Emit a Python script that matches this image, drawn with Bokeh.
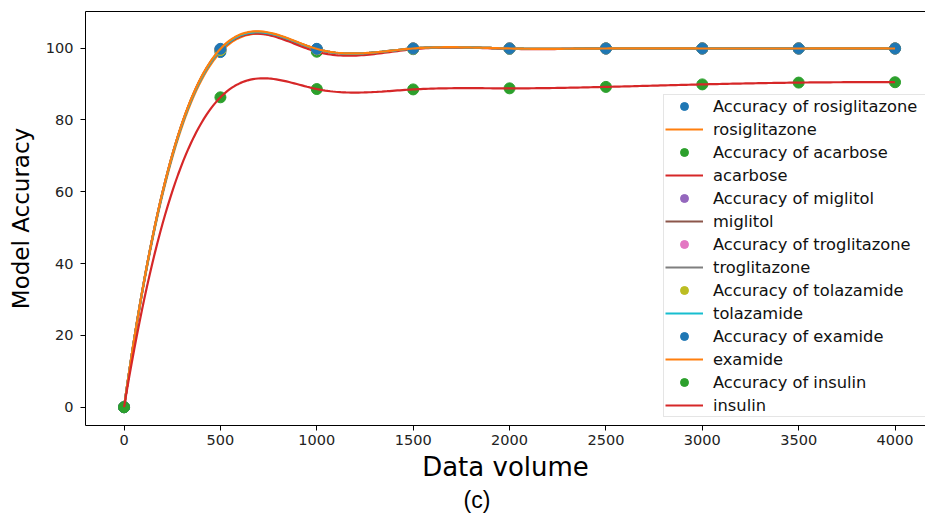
import numpy as np
from bokeh.plotting import figure
from bokeh.models import (Range1d, LinearAxis, FixedTicker, Legend, LegendItem, Title)
from bokeh.embed import file_html
from bokeh.resources import INLINE

# ---- data ----
data_volume = [0, 500, 1000, 1500, 2000, 2500, 3000, 3500, 4000]
acc_rosiglitazone = [0, 98.9, 99.6, 99.9, 99.9, 99.9, 99.9, 99.9, 99.9]
acc_acarbose = [0, 99.4, 99.0, 99.7, 99.8, 99.9, 99.9, 99.9, 99.9]
acc_miglitol = [0, 99.6, 99.7, 99.9, 99.9, 99.9, 99.9, 99.9, 99.9]
acc_troglitazone = [0, 99.6, 99.7, 99.9, 99.9, 99.9, 99.9, 99.9, 99.9]
acc_tolazamide = [0, 99.5, 99.7, 99.9, 99.9, 99.9, 99.9, 99.9, 99.9]
acc_examide = [0, 99.8, 99.8, 99.9, 99.9, 99.9, 99.9, 99.9, 99.9]
acc_insulin = [0, 86.3, 88.6, 88.5, 88.8, 89.2, 89.9, 90.4, 90.5]

drugs = ["rosiglitazone", "acarbose", "miglitol", "troglitazone",
         "tolazamide", "examide", "insulin"]
series = [acc_rosiglitazone, acc_acarbose, acc_miglitol, acc_troglitazone,
          acc_tolazamide, acc_examide, acc_insulin]
x_ticks = [0, 500, 1000, 1500, 2000, 2500, 3000, 3500, 4000]
y_ticks = [0, 20, 40, 60, 80, 100]
caption_text = "(c)"

tab10 = ["#1f77b4", "#ff7f0e", "#2ca02c", "#d62728", "#9467bd",
         "#8c564b", "#e377c2", "#7f7f7f", "#bcbd22", "#17becf"]


def spline_curve(xs, ys, npts=300):
    """Not-a-knot cubic spline through the data points (as make_interp_spline k=3)."""
    xs = np.asarray(xs, float)
    ys = np.asarray(ys, float)
    sc = 500.0
    u = xs / sc
    n = len(u) - 1
    A = np.zeros((4 * n, 4 * n))
    b = np.zeros(4 * n)
    r = 0
    for i in range(n):
        h = u[i + 1] - u[i]
        A[r, 4 * i] = 1; b[r] = ys[i]; r += 1
        A[r, 4 * i:4 * i + 4] = [1, h, h * h, h ** 3]; b[r] = ys[i + 1]; r += 1
    for i in range(n - 1):
        h = u[i + 1] - u[i]
        A[r, 4 * i + 1] = 1; A[r, 4 * i + 2] = 2 * h; A[r, 4 * i + 3] = 3 * h * h
        A[r, 4 * (i + 1) + 1] = -1; r += 1
        A[r, 4 * i + 2] = 2; A[r, 4 * i + 3] = 6 * h
        A[r, 4 * (i + 1) + 2] = -2; r += 1
    A[r, 3] = 1; A[r, 7] = -1; r += 1
    A[r, 4 * (n - 2) + 3] = 1; A[r, 4 * (n - 1) + 3] = -1; r += 1
    c = np.linalg.solve(A, b)
    xf = np.linspace(xs[0], xs[-1], npts)
    uf = xf / sc
    idx = np.clip(np.searchsorted(u, uf, side="right") - 1, 0, n - 1)
    t = uf - u[idx]
    yf = c[4 * idx] + c[4 * idx + 1] * t + c[4 * idx + 2] * t ** 2 + c[4 * idx + 3] * t ** 3
    return xf, yf


FONT = "DejaVu Sans"

p = figure(width=925, height=515, output_backend="svg", toolbar_location=None,
           x_range=Range1d(-200, 4158), y_range=Range1d(-5.1, 110.2),
           min_border_left=85, min_border_right=0, min_border_top=11,
           min_border_bottom=90, background_fill_color="white",
           border_fill_color="white")
p.outline_line_color = None
p.xgrid.visible = False
p.ygrid.visible = False

for ax in (p.xaxis[0], p.yaxis[0]):
    ax.axis_line_color = "black"
    ax.axis_line_width = 1
    ax.major_tick_line_color = "black"
    ax.major_tick_out = 5
    ax.major_tick_in = 0
    ax.minor_tick_line_color = None
    ax.major_label_text_font = FONT
    ax.major_label_text_font_size = "14.5px"
    ax.major_label_text_color = "#222222"
    ax.axis_label_text_font = FONT
    ax.axis_label_text_font_style = "normal"
    ax.axis_label_text_color = "black"

p.xaxis.ticker = FixedTicker(ticks=x_ticks)
p.yaxis.ticker = FixedTicker(ticks=y_ticks)
p.xaxis.axis_label = "Data volume"
p.xaxis.axis_label_text_font_size = "26px"
p.xaxis.major_label_standoff = 4
p.xaxis.axis_label_standoff = 4
p.yaxis.axis_label = "Model Accuracy"
p.yaxis.axis_label_text_font_size = "23px"
p.yaxis.major_label_standoff = 7
p.yaxis.axis_label_standoff = 9

top_axis = LinearAxis(ticker=FixedTicker(ticks=[]), axis_line_color="black",
                      major_label_text_font_size="0px", major_tick_out=0,
                      major_tick_in=0, minor_tick_out=0, minor_tick_in=0)
p.add_layout(top_axis, "above")

items = []
for k, (name, ys) in enumerate(zip(drugs, series)):
    dot_color = tab10[(2 * k) % 10]
    line_color = tab10[(2 * k + 1) % 10]
    rs = p.scatter(data_volume, ys, size=11, color=dot_color, line_color=dot_color)
    xf, yf = spline_curve(data_volume, ys)
    rl = p.line(xf, yf, line_width=2.2, color=line_color)
    items.append(LegendItem(label="Accuracy of " + name, renderers=[rs]))
    items.append(LegendItem(label=name, renderers=[rl]))

legend = Legend(items=items, location=(578, 8), margin=0, padding=1,
                spacing=3, glyph_width=38, glyph_height=20, label_height=20,
                label_width=214, label_standoff=10, label_text_font=FONT,
                label_text_font_size="16.3px", label_text_color="#111111",
                border_line_color="#cccccc", border_line_width=1,
                background_fill_color="white", background_fill_alpha=0.85)
p.add_layout(legend)

caption = Title(text=caption_text, align="left", offset=378,
                text_font="Liberation Sans", text_font_size="23px",
                text_font_style="normal", text_color="black", standoff=0)
p.add_layout(caption, "below")

open("out.html", "w").write(file_html(p, INLINE))
